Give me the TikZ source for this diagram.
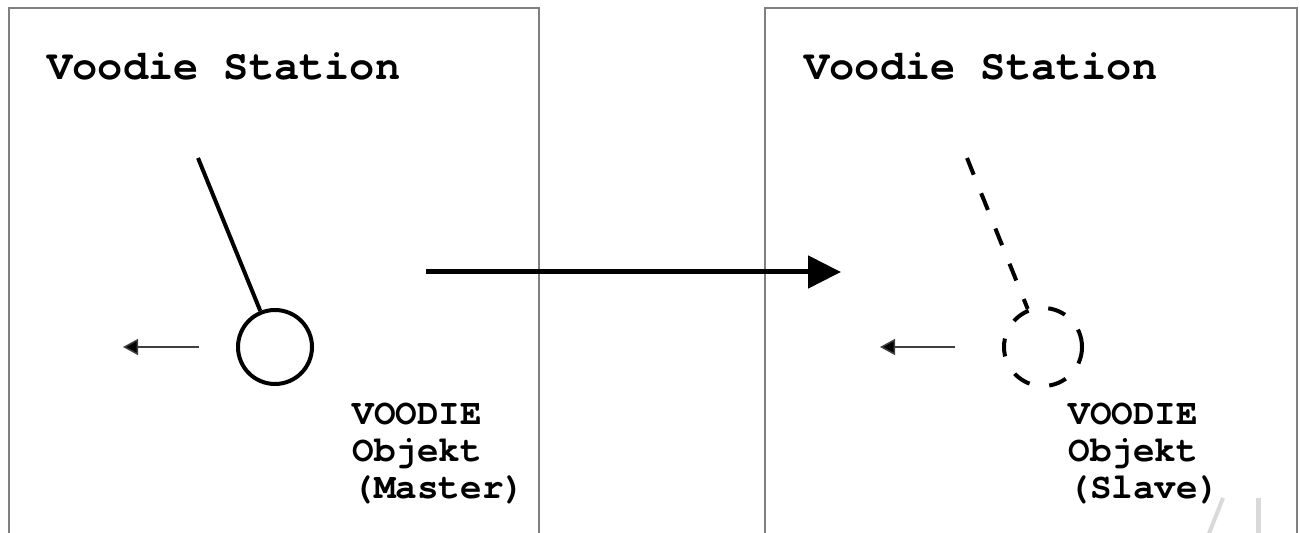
\documentclass[tikz,border=0pt]{standalone}
\usepackage{fontspec}
\usetikzlibrary{arrows.meta}
\newfontfamily\cour{texgyrecursor}[Extension=.otf, UprightFont=*-regular, BoldFont=*-bold]
\definecolor{framegray}{HTML}{808080}
\definecolor{markgray}{HTML}{D9D9D9}
\tikzset{
  frame/.style={draw=framegray, line width=0.75pt},
  title/.style={anchor=base west, inner sep=0pt, font=\cour\bfseries\fontsize{21pt}{24pt}\selectfont},
  label/.style={anchor=north west, inner sep=0pt, align=left, font=\cour\bfseries\fontsize{18pt}{18.5pt}\selectfont},
  bob/.style={circle, draw, line width=2pt, inner sep=0pt},
  rod/.style={line width=2pt},
  ghost/.style={dash pattern=on 9pt off 10pt},
  push/.style={draw=black!75, line width=0.75pt, -{Triangle[length=7.5pt, width=8pt, fill=black]}},
  transfer/.style={line width=2.5pt, -{Triangle[length=16.5pt, width=16pt]}}
}
\begin{document}
\begin{tikzpicture}[x=0.5pt, y=-0.5pt]
  \useasboundingbox (0,0) rectangle (1300,533);

  % the two stations (open at the bottom)
  \draw[frame] (9,540) -- (9,8) -- (539,8) -- (539,540);
  \draw[frame] (765,540) -- (765,8) -- (1297,8) -- (1297,540);

  \node[title] (t1) at (47,80) {Voodie Station};
  \node[title] (t2) at (804,80) {Voodie Station};

  % master pendulum
  \node[bob, minimum size=37pt] (m) at (275,347) {};
  \coordinate (mtop) at (198,158);
  \draw[rod] (mtop) -- (m);
  \coordinate (ma1) at (199,347);
  \coordinate (ma2) at (123,347);
  \draw[push] (ma1) -- (ma2);
  \node[label] (ml) at (352,403) {VOODIE\\Objekt\\(Master)};

  % slave pendulum
  \node[bob, ghost, minimum size=39pt] (s) at (1043,347) {};
  \coordinate (stop) at (967,158);
  \draw[rod, ghost] (stop) -- (s);
  \coordinate (sa1) at (955,347);
  \coordinate (sa2) at (880,347);
  \draw[push] (sa1) -- (sa2);
  \node[label] (sl) at (1068,403) {VOODIE\\Objekt\\(Slave)};

  % transfer from master to slave
  \coordinate (a1) at (426,272);
  \coordinate (a2) at (841,272);
  \draw[transfer] (a1) -- (a2);

  % marks at the lower right corner
  \draw[markgray, line width=2pt] (1208,536) -- (1223,498);
  \draw[markgray, line width=2.5pt] (1258,498) -- (1258,536);
\end{tikzpicture}
\end{document}
